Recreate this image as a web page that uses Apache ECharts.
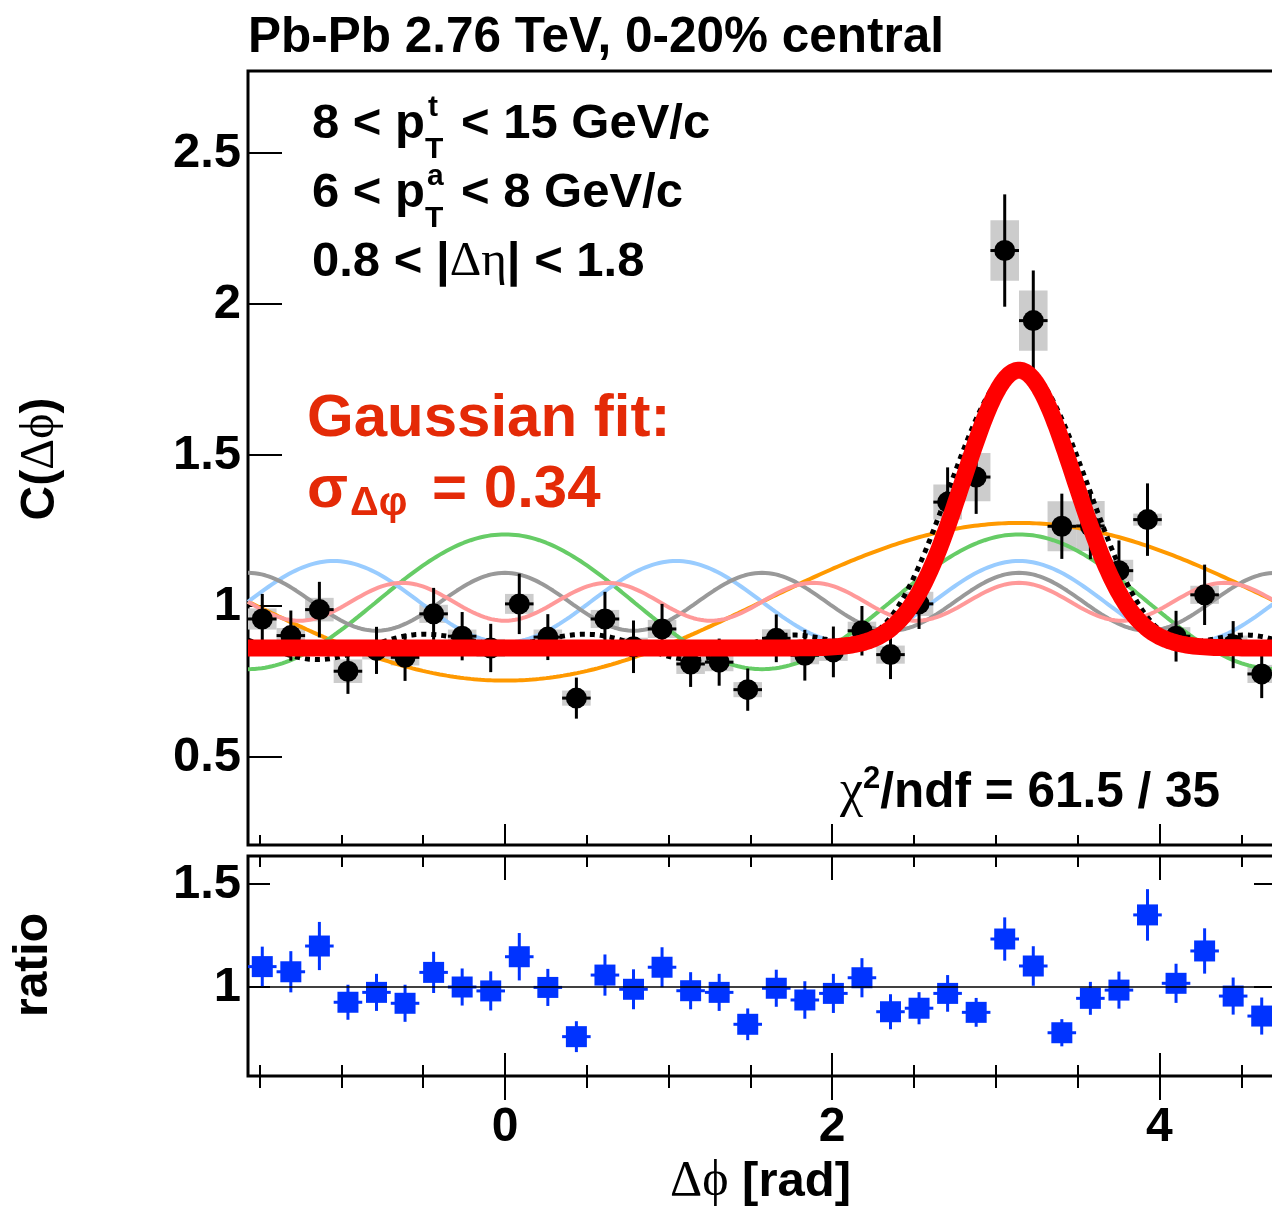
<!DOCTYPE html>
<html><head><meta charset="utf-8">
<script src="https://cdn.jsdelivr.net/npm/echarts@6/dist/echarts.min.js"></script>
<style>html,body{margin:0;padding:0;overflow:hidden;background:#fff}#c{width:1300px;height:1208px}</style>
</head><body><div id="c"></div>
<script>
// ---------------- data ----------------
const dphi = [-1.4835,-1.3090,-1.1345,-0.9599,-0.7854,-0.6109,-0.4363,-0.2618,-0.0873,0.0873,0.2618,0.4363,0.6109,0.7854,0.9599,1.1345,1.3090,1.4835,1.6581,1.8326,2.0071,2.1817,2.3562,2.5307,2.7053,2.8798,3.0543,3.2289,3.4034,3.5779,3.7525,3.9270,4.1015,4.2761,4.4506,4.6251];
const cVal = [0.957,0.902,0.988,0.784,0.853,0.830,0.974,0.900,0.861,1.007,0.897,0.695,0.957,0.865,0.924,0.808,0.814,0.723,0.893,0.837,0.848,0.918,0.839,1.007,1.344,1.427,2.177,1.945,1.264,1.265,1.117,1.286,0.900,1.037,0.872,0.775];
const cStat = [0.083,0.083,0.092,0.075,0.078,0.078,0.086,0.080,0.080,0.100,0.076,0.068,0.090,0.087,0.083,0.076,0.078,0.070,0.079,0.084,0.084,0.082,0.081,0.083,0.115,0.122,0.186,0.166,0.108,0.110,0.100,0.120,0.084,0.100,0.078,0.080];
const cSys = [0.035,0.025,0.039,0.039,0.030,0.027,0.030,0.022,0.030,0.033,0.025,0.025,0.030,0.030,0.030,0.033,0.030,0.025,0.030,0.030,0.030,0.030,0.030,0.040,0.058,0.080,0.100,0.100,0.083,0.083,0.036,0.020,0.030,0.030,0.030,0.030];
const ratioVal = [1.099,1.074,1.199,0.926,0.974,0.921,1.071,1.000,0.981,1.147,0.998,0.759,1.058,0.989,1.096,0.982,0.974,0.819,0.994,0.937,0.969,1.045,0.880,0.897,0.969,0.877,1.233,1.102,0.778,0.945,0.985,1.350,1.018,1.175,0.956,0.859];
const ratioErr = [0.097,0.100,0.117,0.085,0.090,0.090,0.100,0.090,0.095,0.115,0.090,0.075,0.100,0.097,0.097,0.090,0.090,0.077,0.090,0.091,0.095,0.095,0.085,0.078,0.089,0.070,0.105,0.096,0.066,0.080,0.090,0.125,0.095,0.110,0.090,0.090];
// Fourier fit: baseline and harmonic coefficients V1..V5
const harmonicN = [1,2,3,4,5];
const harmonicV = [-0.1287,0.110,-0.0666,0.0473,-0.031];
const fourierBaseline = [1.014];
// Gaussian fit: pedestal, amplitude, mean, sigma
const gaussFit = [0.861,0.920,Math.PI,0.34];
const xMajorTicks = [0,2,4];
const xMinorTicks = [-1.5,-1,-0.5,0.5,1,1.5,2.5,3,3.5,4.5];
const yMainTicks = [0.5,1,1.5,2,2.5];
const yRatioTicks = [1,1.5];
const xRange = [-Math.PI/2, 3*Math.PI/2];
const yMainRange = [0.2086, 2.7715];
const yRatioRange = [0.568, 1.636];

// ---------------- styles ----------------
const harmColors = ['#ff9900','#66cc66','#99ccff','#999999','#ff9999'];
const SANS = "'Liberation Sans', Arial, Helvetica, sans-serif";
const SERIF = "'Liberation Serif', 'DejaVu Serif', serif";
const RED_TXT = '#e42a07';

const chart = echarts.init(document.getElementById('c'), null, {renderer:'canvas', width:1300, height:1208});
const halfBin = (dphi[1]-dphi[0])/2;

// sampling grid for fitted functions
const NS = 600; const xs = [];
for (let i=0;i<=NS;i++) xs.push(xRange[0] + (xRange[1]-xRange[0])*i/NS);
const b0 = fourierBaseline[0];
function harm(k, x){ return b0*(1 + 2*harmonicV[k]*Math.cos(harmonicN[k]*x)); }
function fourier(x){ let s=0; for(let k=0;k<harmonicN.length;k++) s += harmonicV[k]*Math.cos(harmonicN[k]*x); return b0*(1+2*s); }
function gauss(x){ const [p,a,m,s]=gaussFit; return p + a*Math.exp(-(x-m)*(x-m)/(2*s*s)); }

// text helpers
const mctx = document.createElement('canvas').getContext('2d');
function fnt(fs,bold,serif){ return (bold?'bold ':'') + fs + 'px ' + (serif?SERIF:SANS); }
function tw(t,f){ mctx.font=f; return mctx.measureText(t).width; }
function runText(x0, base, parts, color, align){
  let total=0;
  parts.forEach(p=>{ p._f=fnt(p.fs,p.bold!==false,p.serif); p._w=tw(p.t,p._f); if(!p.noAdv) total+=p._w+(p.gap||0); });
  let x = align==='right'? x0-total : align==='center'? x0-total/2 : x0;
  const els=[];
  parts.forEach(p=>{
    els.push({type:'text', x:x+(p.dx||0), y:base+(p.dy||0)-0.345*p.fs, silent:true,
      style:{text:p.t, font:p._f, fill:p.color||color, align:'left', verticalAlign:'middle'}});
    if(!p.noAdv) x+=p._w+(p.gap||0);
  });
  return els;
}

const texts = [].concat(
  runText(248, 55, [{t:'Pb-Pb 2.76 TeV, 0-20% central', fs:49.5}], '#000'),
  runText(312, 141, [{t:'8 < p', fs:49},{t:'t',fs:30,dy:-23,dx:3,noAdv:true},{t:'T',fs:30,dy:19,gap:4},{t:' < 15 GeV/c',fs:49}], '#000'),
  runText(312, 210, [{t:'6 < p', fs:49},{t:'a',fs:30,dy:-23,dx:2,noAdv:true},{t:'T',fs:30,dy:19,gap:4},{t:' < 8 GeV/c',fs:49}], '#000'),
  runText(312, 279, [{t:'0.8 < |', fs:49},{t:'Δη',fs:49,bold:false,serif:true},{t:'| < 1.8',fs:49}], '#000'),
  runText(307, 440, [{t:'Gaussian fit:', fs:60}], RED_TXT),
  runText(307, 511, [{t:'σ', fs:60, gap:2},{t:'Δφ',fs:40,dy:7,gap:8},{t:' = 0.34',fs:60}], RED_TXT),
  runText(840, 810, [{t:'χ', fs:52, bold:false, serif:true},{t:'2',fs:31,dy:-20},{t:'/ndf = 61.5 / 35',fs:49.5}], '#000'),
  runText(670, 1199, [{t:'Δϕ', fs:50, bold:false, serif:true},{t:' [rad]',fs:49}], '#000'),
  [{type:'group', x:57, y:459, rotation:Math.PI/2, children: runText(0,0,[{t:'C(',fs:48},{t:'Δϕ',fs:48,bold:false,serif:true},{t:')',fs:48}],'#000','center')}],
  [{type:'group', x:50, y:965, rotation:Math.PI/2, children: runText(0,0,[{t:'ratio',fs:48}],'#000','center')}]
);

function xAx(grid,pos,inside,ticks,len,labels){
  return {type:'value', gridIndex:grid, position:pos, min:xRange[0], max:xRange[1],
    axisLine:{show:false,onZero:false},
    axisTick:{show:true, inside:inside, length:len, customValues:ticks, lineStyle:{color:'#000',width:2}},
    axisLabel: labels ? {show:true, customValues:xMajorTicks, fontSize:48, fontWeight:'bold', fontFamily:SANS, color:'#000', margin:28}
                      : {show:false},
    splitLine:{show:false}, minorTick:{show:false}};
}
function yAx(grid,pos,range,ticks,len,labels){
  return {type:'value', gridIndex:grid, position:pos, min:range[0], max:range[1],
    axisLine:{show:false,onZero:false},
    axisTick:{show:true, inside:true, length:len, customValues:ticks, lineStyle:{color:'#000',width:2}},
    axisLabel: labels ? {show:true, customValues:ticks, fontSize:49, fontWeight:'bold', fontFamily:SANS, color:'#000', margin:7,
                         formatter:v=>String(+v.toFixed(2))} : {show:false},
    splitLine:{show:false}};
}

function errItem(color, lw){
  return function(params, api){
    const x=api.value(0), y=api.value(1), e=api.value(2), hw=api.value(3);
    const c=api.coord([x,y]), t=api.coord([x,y+e]), b=api.coord([x,y-e]);
    const l=api.coord([x-hw,y]), r=api.coord([x+hw,y]);
    return {type:'group', children:[
      {type:'line', shape:{x1:c[0],y1:t[1],x2:c[0],y2:b[1]}, style:{stroke:color,lineWidth:lw}},
      {type:'line', shape:{x1:l[0],y1:c[1],x2:r[0],y2:c[1]}, style:{stroke:color,lineWidth:lw}}
    ]};
  };
}
function boxItem(params, api){
  const x=api.value(0), y=api.value(1), s=api.value(2), hw=api.value(3);
  const p1=api.coord([x-hw,y+s]), p2=api.coord([x+hw,y-s]);
  return {type:'rect', shape:{x:p1[0], y:p1[1], width:p2[0]-p1[0], height:p2[1]-p1[1]}, style:{fill:'#cccccc'}};
}

const series = [];
series.push({type:'custom', name:'sys', xAxisIndex:0, yAxisIndex:0, z:1, renderItem:boxItem, encode:{x:0,y:1},
  data: dphi.map((x,i)=>[x,cVal[i],cSys[i],halfBin])});
harmonicN.forEach((n,k)=>{
  series.push({type:'line', xAxisIndex:0, yAxisIndex:0, z:2, showSymbol:false, symbol:'none', silent:true,
    lineStyle:{color:harmColors[k], width:4}, data: xs.map(x=>[x,harm(k,x)])});
});
series.push({type:'custom', name:'stat', xAxisIndex:0, yAxisIndex:0, z:3, renderItem:errItem('#000',3), encode:{x:0,y:1},
  data: dphi.map((x,i)=>[x,cVal[i],cStat[i],halfBin])});
series.push({type:'scatter', xAxisIndex:0, yAxisIndex:0, z:4, symbol:'circle', symbolSize:21, itemStyle:{color:'#000', opacity:1},
  data: dphi.map((x,i)=>[x,cVal[i]])});
series.push({type:'line', xAxisIndex:0, yAxisIndex:0, z:5, showSymbol:false, symbol:'none', silent:true,
  lineStyle:{color:'#000', width:5, type:[5,5]}, data: xs.map(x=>[x,fourier(x)])});
series.push({type:'line', xAxisIndex:0, yAxisIndex:0, z:6, showSymbol:false, symbol:'none', silent:true,
  lineStyle:{color:'#ff0000', width:17, cap:'butt', join:'round'}, data: xs.map(x=>[x,gauss(x)])});
// ratio panel
series.push({type:'custom', xAxisIndex:2, yAxisIndex:1, z:2, renderItem:errItem('#0033ff',3), encode:{x:0,y:1},
  data: dphi.map((x,i)=>[x,ratioVal[i],ratioErr[i],halfBin]),
  markLine:{silent:true, symbol:['none','none'], label:{show:false}, lineStyle:{color:'#000',width:1.5,type:'solid'}, data:[{yAxis:1}]}});
series.push({type:'scatter', xAxisIndex:2, yAxisIndex:1, z:4, symbol:'rect', symbolSize:21, itemStyle:{color:'#0033ff', opacity:1},
  data: dphi.map((x,i)=>[x,ratioVal[i]])});

const option = {
  animation:false,
  backgroundColor:'#ffffff',
  grid:[
    {left:248, top:71, width:1028, height:774, show:true, borderColor:'#000', borderWidth:3, backgroundColor:'transparent', containLabel:false},
    {left:248, top:856, width:1028, height:220, show:true, borderColor:'#000', borderWidth:3, backgroundColor:'transparent', containLabel:false}
  ],
  xAxis:[
    xAx(0,'bottom',true,xMinorTicks,10,false),
    xAx(0,'bottom',true,xMajorTicks,21,false),
    xAx(1,'bottom',true,xMinorTicks,11,false),
    xAx(1,'bottom',true,xMajorTicks,23,false),
    xAx(1,'bottom',false,xMinorTicks,12,false),
    xAx(1,'bottom',false,xMajorTicks,24,true),
    xAx(1,'top',true,xMinorTicks,11,false),
    xAx(1,'top',true,xMajorTicks,24,false)
  ],
  yAxis:[
    yAx(0,'left',yMainRange,yMainTicks,34,true),
    yAx(1,'left',yRatioRange,yRatioTicks,22,true),
    yAx(1,'right',yRatioRange,yRatioTicks,22,false)
  ],
  series: series,
  graphic:{elements:texts}
};
chart.setOption(option);
</script>
</body></html>
